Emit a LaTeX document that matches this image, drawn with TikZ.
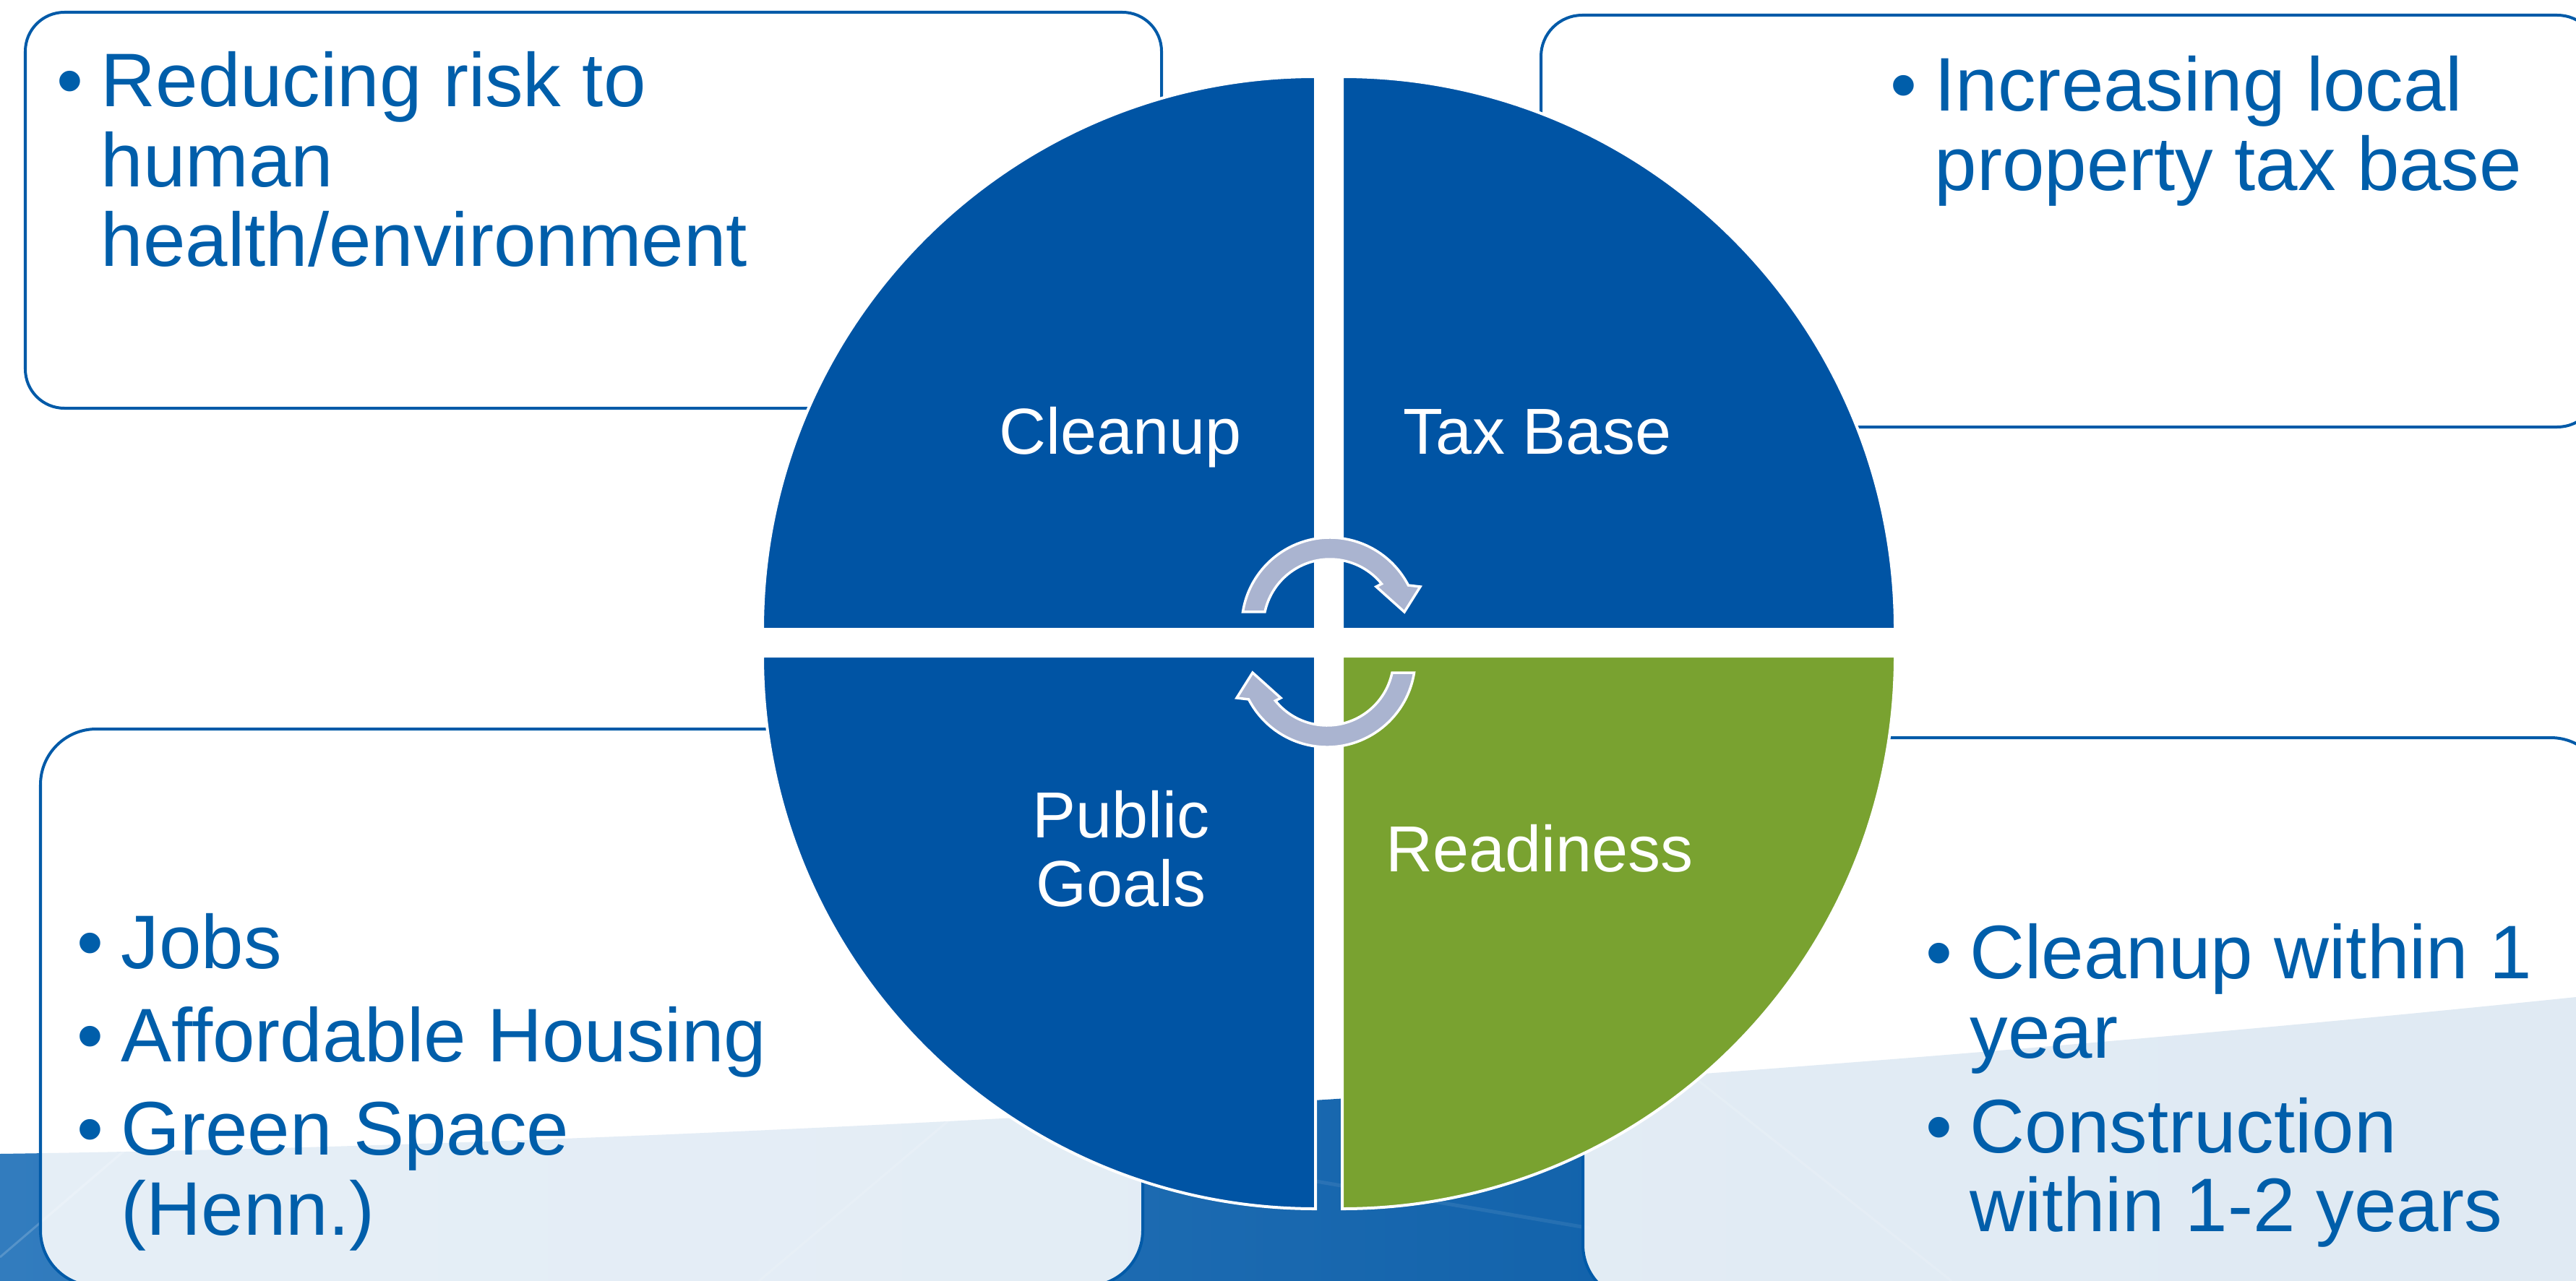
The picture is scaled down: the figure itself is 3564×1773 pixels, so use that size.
\documentclass[tikz,border=0pt]{standalone}
\usepackage{fontspec}
\setmainfont{Liberation Sans}
\usetikzlibrary{calc}

\definecolor{qblue}{RGB}{0,84,164}
\definecolor{qgreen}{RGB}{121,162,48}
\definecolor{txtblue}{RGB}{0,94,170}
\definecolor{boxline}{RGB}{0,90,168}
\definecolor{arrowfill}{RGB}{170,180,208}
\definecolor{bandL}{RGB}{50,124,190}
\definecolor{bandM}{RGB}{0,88,166}
\definecolor{bandR}{RGB}{0,84,160}

\newcommand\boxfont{\fontsize{29.9pt}{31pt}\selectfont}
\newcommand\lblfont{\fontsize{25.6pt}{27pt}\selectfont}
\newcommand\bul{\makebox[0.61cm][l]{\textbullet}}

\begin{document}
\begin{tikzpicture}[x=0.01cm, y=-0.01cm,
  infobox/.style={draw=boxline, line width=0.4mm, fill=white, fill opacity=0.88},
  quad/.style={draw=white, line width=0.4mm},
  arrowsty/.style={fill=arrowfill, draw=white, line width=0.35mm, line join=miter},
  btxt/.style={text=txtblue, font=\boxfont, inner sep=0pt, anchor=base west},
  lbl/.style={text=white, font=\lblfont, inner sep=0pt, anchor=base},
  cyc/.pic={
    \draw[arrowsty] ([shift={(189:122)}]2,-23)
      arc[start angle=189, end angle=332.7, radius=122]
      -- (127,-77) -- (105,-42) -- (66,-77)
      -- ([shift={(321:92)}]2,-23)
      arc[start angle=321, end angle=192, radius=92] -- cycle;
  }]

\useasboundingbox (0,0) rectangle (3564,1773);
\fill[white] (0,0) rectangle (3564,1773);

% blue band along the bottom of the slide
\shade[left color=bandL, middle color=bandM, right color=bandR]
  (0,1597) .. controls (1200,1580) and (2600,1480) .. (3564,1380)
  -- (3564,1773) -- (0,1773) -- cycle;
\begin{scope}
  \clip (0,1597) .. controls (1200,1580) and (2600,1480) .. (3564,1380)
    -- (3564,1773) -- (0,1773) -- cycle;
  \draw[white, opacity=0.18, line width=0.3mm] (0,1740) -- (420,1380);
  \draw[white, opacity=0.12, line width=0.3mm] (1050,1773) -- (1420,1460);
  \draw[white, opacity=0.12, line width=0.3mm] (2330,1480) -- (2700,1773);
  \draw[white, opacity=0.08, line width=0.5mm] (1500,1580) -- (2200,1700);
\end{scope}

% text boxes
\draw[infobox, rounded corners=5.4mm] (35,17) rectangle (1607,565);
\draw[infobox, rounded corners=5.7mm] (2132,21) rectangle (3595,591);
\draw[infobox, rounded corners=7.7mm] (56,1009) rectangle (1581,1780);
\draw[infobox, rounded corners=7.7mm] (2190,1021) rectangle (3606,1800);

% box texts
\node[btxt] (tl1) at (78,148) {\bul Reducing risk to};
\node[btxt] (tl2) at (139,259) {human};
\node[btxt] (tl3) at (139,369) {health/environment};

\node[btxt] (tr1) at (2615,154) {\bul Increasing local};
\node[btxt] (tr2) at (2676,264) {property tax base};

\node[btxt] (bl1) at (106,1340) {\bul Jobs};
\node[btxt] (bl2) at (106,1469) {\bul Affordable Housing};
\node[btxt] (bl3) at (106,1598) {\bul Green Space};
\node[btxt] (bl4) at (167,1709) {(Henn.)};

\node[btxt] (br1) at (2664,1354) {\bul Cleanup within 1};
\node[btxt] (br2) at (2725,1464) {year};
\node[btxt] (br3) at (2664,1595) {\bul Construction};
\node[btxt] (br4) at (2725,1704) {within 1-2 years};

% four quadrants of the circle
\filldraw[quad, fill=qblue] (1820,871) -- ++(-765,0)
  arc[start angle=180, end angle=270, radius=765] -- cycle;
\filldraw[quad, fill=qblue] (1857,871) -- ++(0,-765)
  arc[start angle=270, end angle=360, radius=765] -- cycle;
\filldraw[quad, fill=qgreen] (1857,908) -- ++(765,0)
  arc[start angle=0, end angle=90, radius=765] -- cycle;
\filldraw[quad, fill=qblue] (1820,908) -- ++(0,765)
  arc[start angle=90, end angle=180, radius=765] -- cycle;

% cycle arrows in the middle
\pic at (1838,889) {cyc};
\pic[rotate=180] at (1838,889) {cyc};

% quadrant labels
\node[lbl] (cleanup) at (1550,628) {Cleanup};
\node[lbl] (taxbase) at (2127,628) {Tax Base};
\node[lbl] (public) at (1551,1159) {Public};
\node[lbl] (goals) at (1551,1254) {Goals};
\node[lbl] (ready) at (2130,1206) {Readiness};

\end{tikzpicture}
\end{document}
